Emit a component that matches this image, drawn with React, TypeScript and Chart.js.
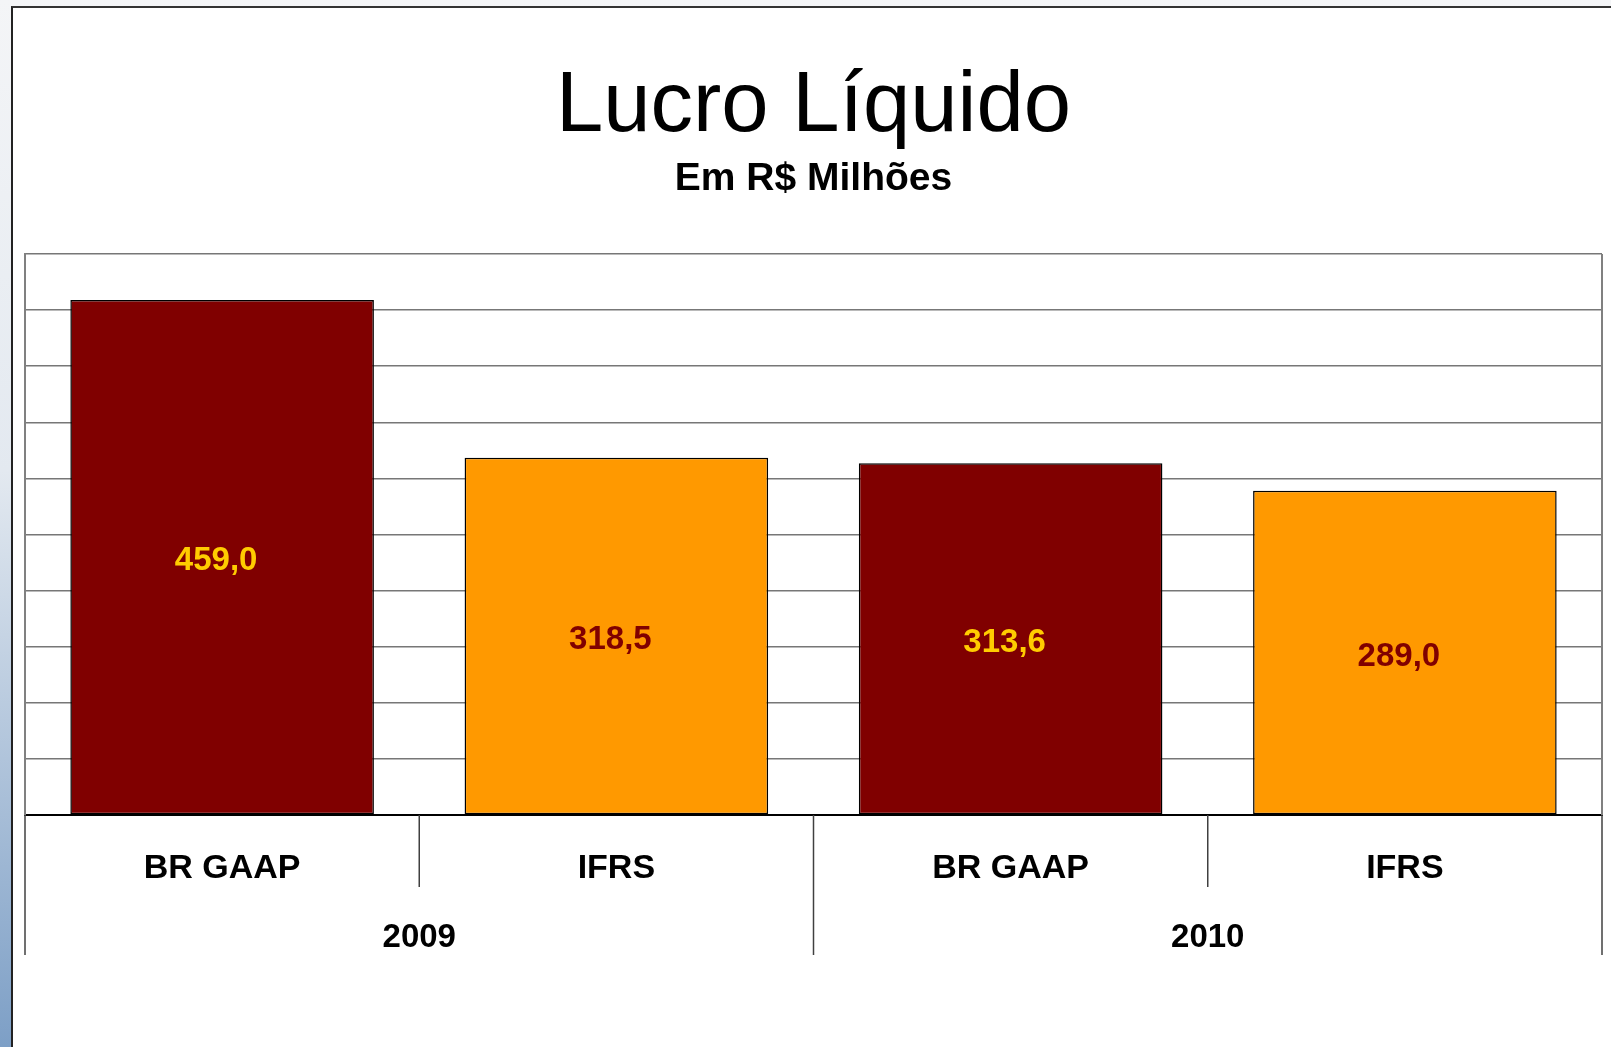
import React, { useEffect, useRef } from "react";
import { Chart, registerables } from "chart.js";

Chart.register(...registerables);

const categories = ["BR GAAP", "IFRS", "BR GAAP", "IFRS"];
const years = ["2009", "2010"];
const values = [459.0, 318.5, 313.6, 289.0];
const barColors = ["#800000", "#FF9900", "#800000", "#FF9900"];
const labelColors = ["#FFCC00", "#800000", "#FFCC00", "#800000"];
const yMax = 500;
const yStep = 50;

const FONT = "'Liberation Sans', Arial, Helvetica, sans-serif";
const W = 1611;
const H = 1047;

const overlayPlugin = {
  id: "overlay",
  afterDraw(chart: any) {
    const ctx = chart.ctx;
    const area = chart.chartArea;
    const xs = chart.scales.x;
    ctx.save();
    // right border of plot
    ctx.strokeStyle = "#808080";
    ctx.lineWidth = 2;
    ctx.beginPath();
    ctx.moveTo(area.right, area.top);
    ctx.lineTo(area.right, area.bottom);
    ctx.stroke();

    // category separators
    const n = categories.length;
    ctx.strokeStyle = "#404040";
    ctx.lineWidth = 1.5;
    for (let i = 0; i <= n; i++) {
      let x: number;
      if (i === 0) x = area.left;
      else if (i === n) x = area.right;
      else x = (xs.getPixelForValue(i - 1) + xs.getPixelForValue(i)) / 2;
      const long = i % 2 === 0;
      ctx.beginPath();
      ctx.moveTo(x, area.bottom);
      ctx.lineTo(x, area.bottom + (long ? 140 : 72));
      ctx.stroke();
    }

    // year labels
    ctx.fillStyle = "#000";
    ctx.font = `bold 33px ${FONT}`;
    ctx.textAlign = "center";
    ctx.textBaseline = "middle";
    years.forEach((yr, k) => {
      const x = (xs.getPixelForValue(2 * k) + xs.getPixelForValue(2 * k + 1)) / 2;
      ctx.fillText(yr, x, area.bottom + 123);
    });

    // value labels
    const meta = chart.getDatasetMeta(0);
    meta.data.forEach((el: any, i: number) => {
      ctx.fillStyle = labelColors[i];
      ctx.font = `bold 33px ${FONT}`;
      ctx.fillText(values[i].toFixed(1).replace(".", ","), el.x - 6, (el.y + el.base) / 2 + 4);
    });
    ctx.restore();
  },
};

export default function App() {
  const ref = useRef<HTMLCanvasElement>(null);
  useEffect(() => {
    if (!ref.current) return;
    const chart = new Chart(ref.current, {
      type: "bar",
      data: {
        labels: categories,
        datasets: [
          {
            data: values,
            backgroundColor: barColors,
            borderColor: "#000",
            borderWidth: 1.5,
            borderSkipped: false,
            categoryPercentage: 1,
            barPercentage: 0.77,
          },
        ],
      },
      options: {
        animation: false,
        responsive: false,
        devicePixelRatio: 1,
        layout: { padding: { left: 25, right: 9, top: 0, bottom: 0 } },
        plugins: {
          legend: { display: false },
          tooltip: { enabled: false },
          title: {
            display: true,
            text: "Lucro Líquido",
            color: "#000",
            font: { family: FONT, size: 85, weight: "normal", lineHeight: 1 },
            padding: { top: 65.5, bottom: 0 },
          },
          subtitle: {
            display: true,
            text: "Em R$ Milhões",
            color: "#000",
            font: { family: FONT, size: 39, weight: "bold", lineHeight: 1.2 },
            padding: { top: 5, bottom: 51.7 },
          },
        },
        scales: {
          x: {
            grid: { display: false },
            border: { display: true, color: "#000", width: 2 },
            ticks: {
              color: "#000",
              font: { family: FONT, size: 34, weight: "bold" },
              padding: 25,
              maxRotation: 0,
              autoSkip: false,
            },
            afterFit: (s: any) => {
              s.height = 232;
            },
          },
          y: {
            min: 0,
            max: yMax,
            ticks: { display: false, stepSize: yStep },
            grid: { color: "#777", lineWidth: 1.5, drawTicks: false },
            border: { display: true, color: "#808080", width: 2 },
            afterFit: (s: any) => {
              s.width = 0;
            },
          },
        },
      },
      plugins: [overlayPlugin],
    });
    return () => chart.destroy();
  }, []);

  return (
    <div
      style={{
        position: "absolute",
        left: 0,
        top: 0,
        width: W,
        height: H,
        overflow: "hidden",
        background: "linear-gradient(to bottom, #f4f5f7 0%, #e3e9f0 45%, #7d9fc6 100%)",
      }}
    >
      <div
        style={{
          position: "absolute",
          left: 11,
          top: 6,
          right: 0,
          bottom: 0,
          background: "#fff",
          borderLeft: "2px solid #222",
          borderTop: "2px solid #333",
        }}
      />
      <canvas
        ref={ref}
        width={W}
        height={H}
        style={{ position: "absolute", left: 0, top: 0, width: W, height: H }}
      />
    </div>
  );
}
